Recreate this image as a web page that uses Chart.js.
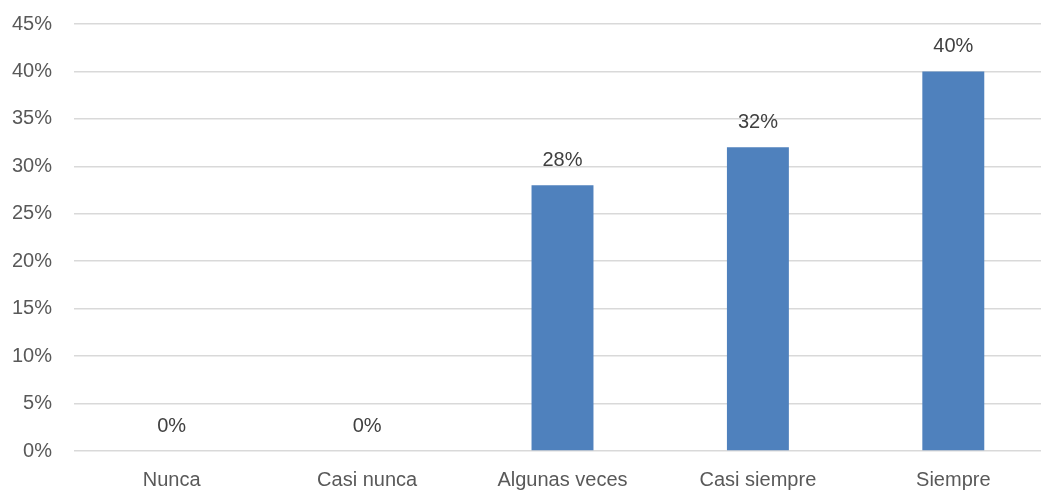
<!DOCTYPE html>
<html>
<head>
<meta charset="utf-8">
<script src="https://cdn.jsdelivr.net/npm/chart.js@4/dist/chart.umd.min.js"></script>
<style>
  html, body { margin: 0; padding: 0; background: #ffffff; overflow: hidden; }
  #wrap { width: 1051px; height: 493px; position: relative; }
</style>
</head>
<body>
<div id="wrap"><canvas id="chart" width="1051" height="493"></canvas></div>
<script>
// Frecuencia de respuesta por categoría (porcentaje)
const categories = ["Nunca", "Casi nunca", "Algunas veces", "Casi siempre", "Siempre"];
const values = [0, 0, 28, 32, 40];
const yTicks = [0, 5, 10, 15, 20, 25, 30, 35, 40, 45];

// Porcentaje sobre cada barra
const valueLabels = {
  id: "valueLabels",
  afterDatasetsDraw(chart) {
    const ctx = chart.ctx;
    const meta = chart.getDatasetMeta(0);
    ctx.save();
    ctx.font = "20px 'Liberation Sans', Arial, sans-serif";
    ctx.fillStyle = "#404040";
    ctx.textAlign = "center";
    ctx.textBaseline = "alphabetic";
    meta.data.forEach((bar, i) => {
      ctx.fillText(values[i] + "%", bar.x, bar.y - 19);
    });
    ctx.restore();
  }
};

new Chart(document.getElementById("chart"), {
  type: "bar",
  data: {
    labels: categories,
    datasets: [{
      data: values,
      backgroundColor: "#4f81bd",
      borderWidth: 0,
      categoryPercentage: 1,
      barPercentage: 0.317
    }]
  },
  options: {
    responsive: false,
    animation: false,
    layout: { padding: { top: 24, right: 0, bottom: 0, left: 0 } },
    plugins: { legend: { display: false }, tooltip: { enabled: false } },
    scales: {
      x: {
        grid: { display: false, drawTicks: false },
        border: { display: false },
        ticks: {
          color: "#595959",
          font: { family: "'Liberation Sans', Arial, sans-serif", size: 20 },
          padding: 17,
          maxRotation: 0,
          autoSkip: false
        },
        afterFit(scale) { scale.height = 42; scale.paddingLeft = 0; scale.paddingRight = 0; }
      },
      y: {
        min: 0,
        max: 45,
        afterBuildTicks(scale) { scale.ticks = yTicks.map(v => ({ value: v })); },
        grid: { color: "#d9d9d9", lineWidth: 1.5, drawTicks: false },
        border: { display: false },
        ticks: {
          color: "#595959",
          font: { family: "'Liberation Sans', Arial, sans-serif", size: 20 },
          padding: 22,
          callback: v => v + "%"
        },
        afterFit(scale) { scale.width = 74; scale.paddingTop = 0; scale.paddingBottom = 0; }
      }
    }
  },
  plugins: [valueLabels]
});
</script>
</body>
</html>
